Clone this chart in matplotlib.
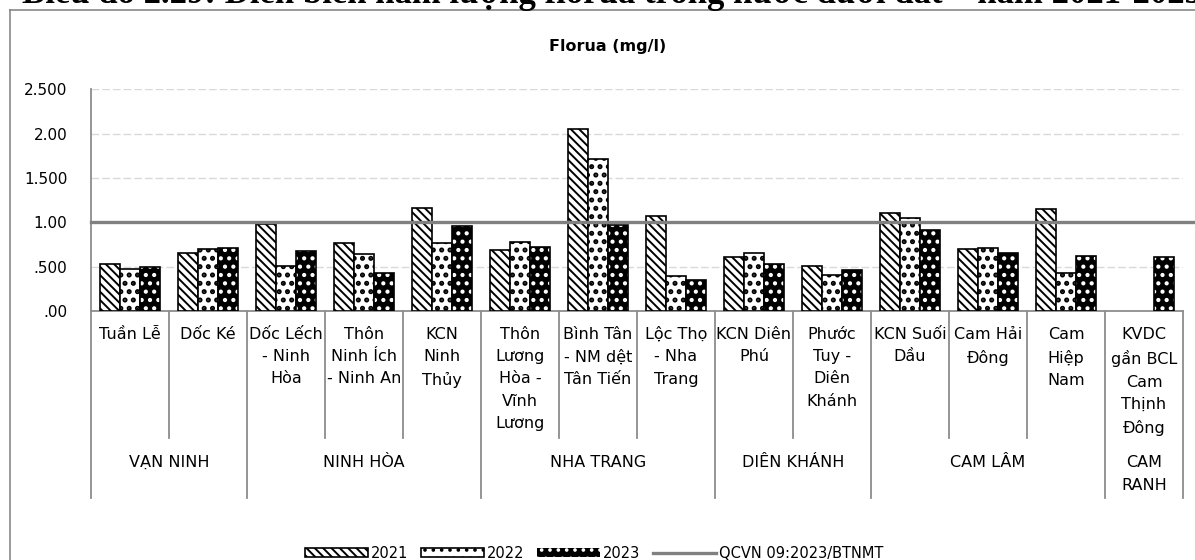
import numpy as np
import matplotlib
matplotlib.use("Agg")
import matplotlib.pyplot as plt
from matplotlib.lines import Line2D

# ── data ───────────────────────────────────────────────────────────────────
sites = [
    "Tuần Lễ", "Dốc Ké", "Dốc Lếch\n- Ninh\nHòa", "Thôn\nNinh Ích\n- Ninh An",
    "KCN\nNinh\nThủy", "Thôn\nLương\nHòa -\nVĩnh\nLương", "Bình Tân\n- NM dệt\nTân Tiến",
    "Lộc Thọ\n- Nha\nTrang", "KCN Diên\nPhú", "Phước\nTuy -\nDiên\nKhánh",
    "KCN Suối\nDầu", "Cam Hải\nĐông", "Cam\nHiệp\nNam", "KVDC\ngần BCL\nCam\nThịnh\nĐông",
]
districts = ["VẠN NINH", "NINH HÒA", "NHA TRANG", "DIÊN KHÁNH", "CAM LÂM", "CAM\nRANH"]
district_sizes = [2, 3, 3, 2, 3, 1]

v2021 = [0.535, 0.655, 0.985, 0.765, 1.16, 0.69, 2.05, 1.075, 0.61, 0.505, 1.105, 0.695, 1.15, np.nan]
v2022 = [0.476, 0.70, 0.51, 0.645, 0.765, 0.775, 1.71, 0.395, 0.65, 0.405, 1.045, 0.705, 0.43, np.nan]
v2023 = [0.495, 0.71, 0.68, 0.43, 0.96, 0.725, 0.97, 0.35, 0.525, 0.46, 0.915, 0.655, 0.615, 0.61]
qcvn = 1.0

yticks = [0, 0.5, 1.0, 1.5, 2.0, 2.5]
ytick_labels = [".00", ".500", "1.00", "1.500", "2.00", "2.500"]

caption = "Biểu đồ 2.29: Diễn biến hàm lượng florua trong nước dưới đất – năm 2021-2023"

# ── style ──────────────────────────────────────────────────────────────────
plt.rcParams.update({
    "font.family": "DejaVu Sans",
    "hatch.linewidth": 1.4,
})
W, H = 1195, 560
GRAY = "#8c8c8c"

fig = plt.figure(figsize=(W / 100, H / 100), dpi=100)

# pixel geometry of the plot area
X0, X1 = 91, 1183
Y_BOT, Y_TOP = 311, 89.25
ax = fig.add_axes([X0 / W, (H - Y_BOT) / H, (X1 - X0) / W, (Y_BOT - Y_TOP) / H])


def yfrac(py):
    """pixel row -> axes fraction"""
    return (Y_BOT - py) / (Y_BOT - Y_TOP)


n = len(sites)
x = np.arange(n) + 0.5
bw = 0.26

b21 = ax.bar(x - bw, v2021, bw, facecolor="white", edgecolor="black",
             linewidth=1.2, hatch="\\\\\\\\", label="2021", zorder=3)
with plt.rc_context({"hatch.linewidth": 2.4}):
    b22 = ax.bar(x, v2022, bw, facecolor="white", edgecolor="black",
                 linewidth=1.2, hatch="..", label="2022", zorder=3)
with plt.rc_context({"hatch.linewidth": 1.8}):
    b23 = ax.bar(x + bw, v2023, bw, facecolor="black", edgecolor="white",
                 linewidth=0, hatch="..", label="2023", zorder=3)
ax.bar(x + bw, v2023, bw, fill=False, edgecolor="black", linewidth=1.2, zorder=3)

qline = ax.axhline(qcvn, xmin=0, xmax=1.011, color="#808080", linewidth=2.4,
                   clip_on=False, zorder=4, label="QCVN 09:2023/BTNMT")

ax.set_xlim(0, n)
ax.set_ylim(0, 2.5)
ax.set_yticks(yticks)
ax.set_yticklabels(ytick_labels)
ax.tick_params(axis="y", length=0, pad=17, labelsize=11)
ax.set_xticks([])
for yv in yticks[1:]:
    if yv != qcvn:
        ax.axhline(yv, color="#d9d9d9", linewidth=1, linestyle=(0, (5.5, 2.2)), zorder=1)

for s in ["top", "right"]:
    ax.spines[s].set_visible(False)
for s in ["left", "bottom"]:
    ax.spines[s].set_color(GRAY)
    ax.spines[s].set_linewidth(1.3)

# ── multi-level category axis ──────────────────────────────────────────────
xt = ax.get_xaxis_transform()
bounds = np.concatenate([[0], np.cumsum(district_sizes)])
for i in range(n + 1):
    bottom = 498 if i in bounds else 438
    ax.plot([i, i], [0, yfrac(bottom)], color=GRAY, linewidth=1.3,
            transform=xt, clip_on=False)

for xi, lab in zip(x, sites):
    ax.text(xi, yfrac(327), lab, transform=xt, ha="center", va="top",
            fontsize=11.5, linespacing=1.6, clip_on=False)

for k, lab in enumerate(districts):
    xc = (bounds[k] + bounds[k + 1]) / 2
    ax.text(xc, yfrac(455), lab, transform=xt, ha="center", va="top",
            fontsize=11.5, linespacing=1.65, clip_on=False)

# ── title, caption, frame, legend ─────────────────────────────────────────
fig.text(608 / W, 1 - 46 / H, "Florua (mg/l)", ha="center", va="center",
         fontsize=11.5, fontweight="bold")

fig.text(22 / W, 1 - 3 / H, caption, ha="left", va="baseline",
         fontfamily="Liberation Serif", fontweight="bold", fontsize=25)

fig.add_artist(Line2D([9.5 / W, 9.5 / W], [-0.1, 1 - 10 / H], color="#7f7f7f", linewidth=1.1))
fig.add_artist(Line2D([9.5 / W, 1.0], [1 - 10 / H, 1 - 10 / H], color="#7f7f7f", linewidth=1.1))

fig.legend(handles=[b21, b22, b23, qline], loc="center", bbox_to_anchor=(594 / W, 1 - 553 / H),
           ncol=4, frameon=False, fontsize=10.5, handlelength=4.3, handleheight=0.55,
           handletextpad=0.2, columnspacing=0.9, borderaxespad=0, borderpad=0)

fig.savefig("out.png", dpi=100)
